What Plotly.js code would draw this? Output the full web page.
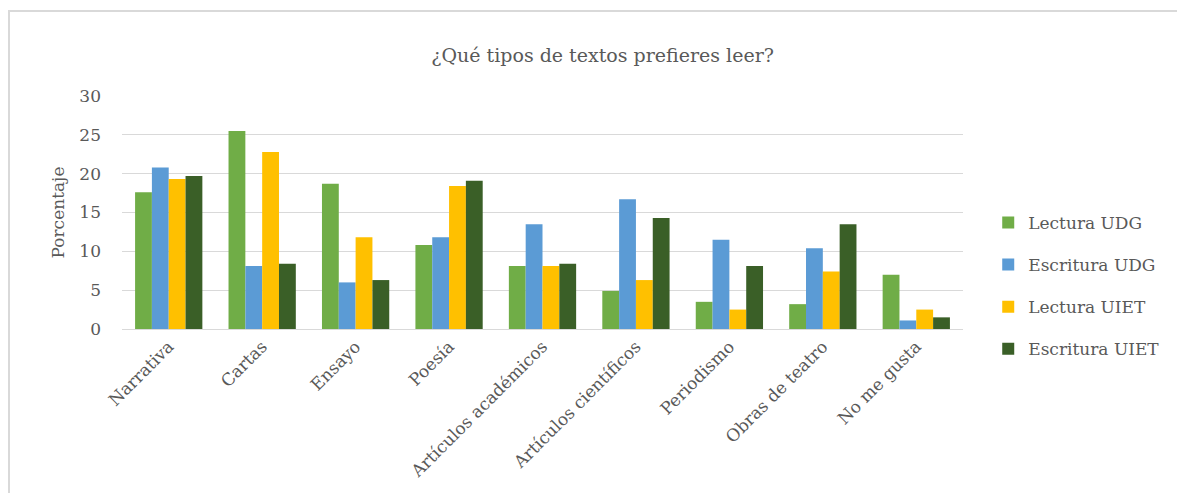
<!DOCTYPE html>
<html>
<head>
<meta charset="utf-8">
<script src="https://cdn.plot.ly/plotly-3.0.1.min.js"></script>
<style>
  html, body { margin: 0; padding: 0; background: #fff; }
  #wrap { position: relative; width: 1177px; height: 493px; overflow: hidden; }
  #chart { position: absolute; left: 0; top: 0; width: 1177px; height: 493px; }
  #frame { position: absolute; left: 8px; top: 10px; width: 1200px; height: 600px;
           border-top: 2px solid #d9d9d9; border-left: 2px solid #d9d9d9; pointer-events: none; }
</style>
</head>
<body>
<div id="wrap">
  <div id="chart"></div>
  <div id="frame"></div>
</div>
<script>
const categories = ["Narrativa", "Cartas", "Ensayo", "Poesía", "Artículos académicos",
  "Artículos científicos", "Periodismo", "Obras de teatro", "No me gusta"];
const seriesNames = ["Lectura UDG", "Escritura UDG", "Lectura UIET", "Escritura UIET"];
const lecturaUDG    = [17.6, 25.5, 18.7, 10.8, 8.1, 4.9, 3.5, 3.2, 7.0];
const escrituraUDG  = [20.8, 8.1, 6.0, 11.8, 13.5, 16.7, 11.5, 10.4, 1.1];
const lecturaUIET   = [19.3, 22.8, 11.8, 18.4, 8.1, 6.3, 2.5, 7.4, 2.5];
const escrituraUIET = [19.7, 8.4, 6.3, 19.1, 8.4, 14.3, 8.1, 13.5, 1.5];
const yTicks = [0, 5, 10, 15, 20, 25, 30];

const colors = ["#70AD47", "#5B9BD5", "#FFC000", "#3A5F27"];
const values = [lecturaUDG, escrituraUDG, lecturaUIET, escrituraUIET];
const serif = "DejaVu Serif, Liberation Serif, serif";
const textGray = "#595959";

const traces = values.map((v, i) => ({
  type: "bar",
  name: seriesNames[i],
  x: categories,
  y: v,
  marker: { color: colors[i], line: { width: 0 } },
  legendgroup: "g" + i,
  hoverinfo: "x+y+name"
}));

const layout = {
  width: 1177, height: 493,
  margin: { l: 122, r: 214, t: 96, b: 164, autoexpand: false },
  paper_bgcolor: "rgba(0,0,0,0)",
  plot_bgcolor: "rgba(0,0,0,0)",
  barmode: "group",
  bargap: 0.28,
  bargroupgap: 0,
  font: { family: serif, color: textGray, size: 17 },
  title: {
    text: "¿Qué tipos de textos prefieres leer?",
    font: { family: serif, size: 19, color: textGray },
    xref: "container", x: 0.512, xanchor: "center",
    yref: "container", y: 1 - 55 / 493, yanchor: "middle"
  },
  xaxis: {
    type: "category",
    tickangle: -45,
    tickfont: { family: serif, size: 17, color: textGray },
    showline: true, linecolor: "#d9d9d9", linewidth: 1,
    showgrid: false, ticks: "", automargin: false, fixedrange: true
  },
  yaxis: {
    range: [0, 30],
    tickvals: yTicks,
    ticktext: yTicks.map(String),
    tickfont: { family: serif, size: 17, color: textGray },
    showgrid: true, gridcolor: "#d9d9d9", gridwidth: 1,
    zeroline: false, showline: false, ticks: "",
    ticklabelstandoff: 20,
    automargin: false,
    title: { text: "Porcentaje", font: { family: serif, size: 17, color: textGray }, standoff: 10 },
    fixedrange: true
  },
  showlegend: true,
  legend: {
    x: 1.03, xanchor: "left",
    y: 0.185, yanchor: "middle",
    font: { family: serif, size: 17, color: textGray },
    tracegroupgap: 17,
    itemwidth: 30,
    bgcolor: "rgba(0,0,0,0)"
  }
};

Plotly.newPlot("chart", traces, layout, { displayModeBar: false, staticPlot: true });
</script>
</body>
</html>
